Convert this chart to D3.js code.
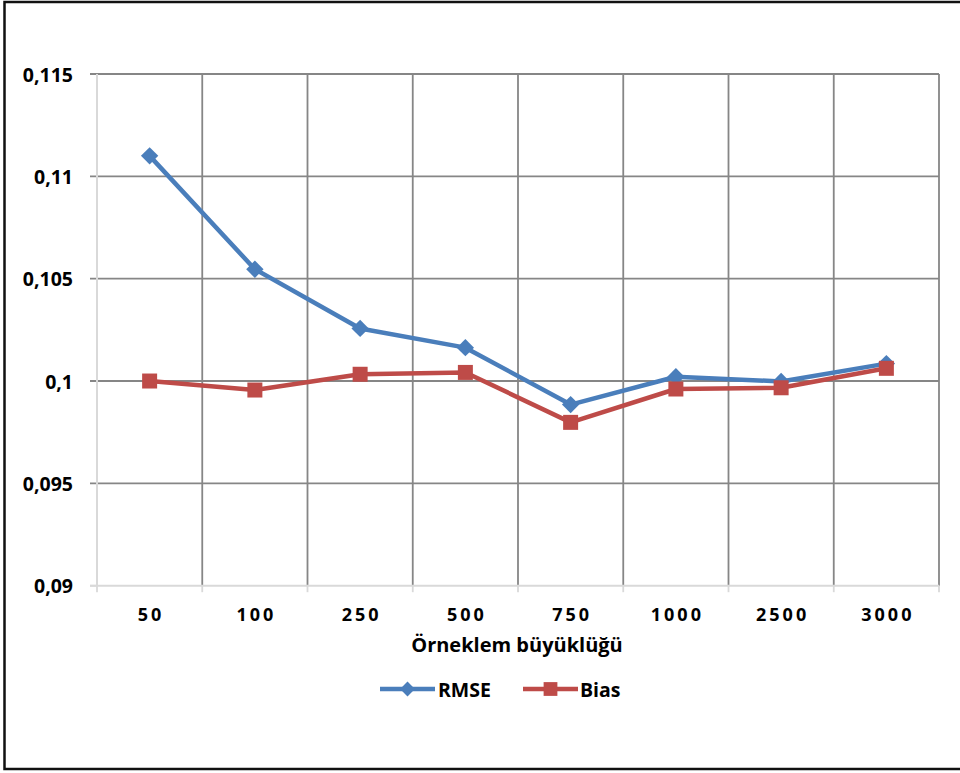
<!DOCTYPE html>
<html>
<head>
<meta charset="utf-8">
<script src="https://cdn.jsdelivr.net/npm/d3@7"></script>
<style>
  html, body { margin: 0; padding: 0; background: #fff; }
  svg { display: block; }
  text { font-family: "Open Sans", Lato, "DejaVu Sans", sans-serif; font-weight: bold; fill: #000; }
</style>
</head>
<body>
<svg id="chart" width="960" height="773"></svg>
<script>
const categories = ["50", "100", "250", "500", "750", "1000", "2500", "3000"];
const rmseValues = [0.1110, 0.10546, 0.10257, 0.10163, 0.09885, 0.10021, 0.09998, 0.10085];
const biasValues = [0.1000, 0.09956, 0.10033, 0.10042, 0.09798, 0.09961, 0.09967, 0.10062];
const yTicks = [0.09, 0.095, 0.1, 0.105, 0.11, 0.115];
const yTickLabels = ["0,09", "0,095", "0,1", "0,105", "0,11", "0,115"];
const seriesNames = ["RMSE", "Bias"];
const xTitle = "Örneklem büyüklüğü";

const svg = d3.select("#chart");

// outer frame
svg.append("rect")
  .attr("x", 4.5).attr("y", 2).attr("width", 965).attr("height", 767)
  .attr("fill", "#fff").attr("stroke", "#111").attr("stroke-width", 2.5);

const x = d3.scaleBand().domain(categories).range([97, 939]).padding(0);
const y = d3.scaleLinear().domain([0.09, 0.115]).range([585.7, 74]);

const gridColor = "#868686";
const axisColor = "#d9d9d9";

// horizontal gridlines (with outward tick)
svg.append("g").selectAll("line").data(yTicks.filter(d => d > 0.09)).join("line")
  .attr("x1", 90).attr("x2", 939)
  .attr("y1", d => y(d)).attr("y2", d => y(d))
  .attr("stroke", gridColor).attr("stroke-width", 1.8);

// vertical gridlines at band boundaries
const bounds = categories.map(c => x(c)).concat([x.range()[1]]);
svg.append("g").selectAll("line").data(bounds.slice(1)).join("line")
  .attr("x1", d => d).attr("x2", d => d)
  .attr("y1", y(0.115)).attr("y2", y(0.09))
  .attr("stroke", gridColor).attr("stroke-width", 1.8);

// x-axis tick marks below axis
svg.append("g").selectAll("line").data(bounds).join("line")
  .attr("x1", d => d).attr("x2", d => d)
  .attr("y1", y(0.09)).attr("y2", y(0.09) + 6.5)
  .attr("stroke", axisColor).attr("stroke-width", 1.8);

// y axis line
svg.append("line")
  .attr("x1", 97).attr("x2", 97).attr("y1", y(0.115)).attr("y2", y(0.09))
  .attr("stroke", axisColor).attr("stroke-width", 2);
// y tick at 0.09
svg.append("line")
  .attr("x1", 90).attr("x2", 97).attr("y1", y(0.09)).attr("y2", y(0.09))
  .attr("stroke", axisColor).attr("stroke-width", 1.8);
// x axis line
svg.append("line")
  .attr("x1", 90).attr("x2", 939).attr("y1", y(0.09)).attr("y2", y(0.09))
  .attr("stroke", axisColor).attr("stroke-width", 2);

// y tick labels
svg.append("g").selectAll("text").data(yTicks).join("text")
  .attr("x", 73).attr("y", d => y(d) + 7.5)
  .attr("text-anchor", "end")
  .style("font-size", "19.5px")
  .text((d, i) => yTickLabels[i]);

// x tick labels
svg.append("g").selectAll("text").data(categories).join("text")
  .attr("x", d => x(d) + x.bandwidth() / 2 + 1.5)
  .attr("y", 620.5)
  .attr("text-anchor", "middle")
  .style("font-size", "18px")
  .style("letter-spacing", "3px")
  .text(d => d);

// x title
svg.append("text")
  .attr("x", 517).attr("y", 652)
  .attr("text-anchor", "middle")
  .style("font-size", "20px")
  .text(xTitle);

const colors = ["#4a7ebb", "#be4b48"];
const line = d3.line().x((d, i) => x(categories[i]) + x.bandwidth() / 2).y(d => y(d));

function drawSeries(values, color, marker) {
  const g = svg.append("g");
  g.append("path").datum(values).attr("d", line)
    .attr("fill", "none").attr("stroke", color).attr("stroke-width", 4.5)
    .attr("stroke-linejoin", "round");
  g.selectAll("path.m").data(values).join("path").attr("class", "m")
    .attr("transform", (d, i) => {
      const cx = x(categories[i]) + x.bandwidth() / 2;
      return marker === "diamond"
        ? `translate(${cx},${y(d)}) rotate(45)`
        : `translate(${cx},${y(d)})`;
    })
    .attr("d", marker === "diamond" ? d3.symbol().type(d3.symbolSquare).size(150)() : d3.symbol().type(d3.symbolSquare).size(225)())
    .attr("fill", color);
}
drawSeries(rmseValues, colors[0], "diamond");
drawSeries(biasValues, colors[1], "square");

// legend
const legendItems = [
  { name: seriesNames[0], color: colors[0], marker: "diamond", x0: 380, tx: 438 },
  { name: seriesNames[1], color: colors[1], marker: "square", x0: 523, tx: 580 }
];
const lg = svg.append("g");
legendItems.forEach(it => {
  const ly = 689;
  lg.append("line").attr("x1", it.x0).attr("x2", it.x0 + 55).attr("y1", ly).attr("y2", ly)
    .attr("stroke", it.color).attr("stroke-width", 4.5);
  lg.append("path")
    .attr("transform", it.marker === "diamond"
      ? `translate(${it.x0 + 27.5},${ly}) rotate(45)` : `translate(${it.x0 + 27.5},${ly})`)
    .attr("d", d3.symbol().type(d3.symbolSquare).size(it.marker === "diamond" ? 110 : 190)())
    .attr("fill", it.color);
  lg.append("text").attr("x", it.tx).attr("y", ly + 7.5)
    .style("font-size", "19.5px").text(it.name);
});
</script>
</body>
</html>
